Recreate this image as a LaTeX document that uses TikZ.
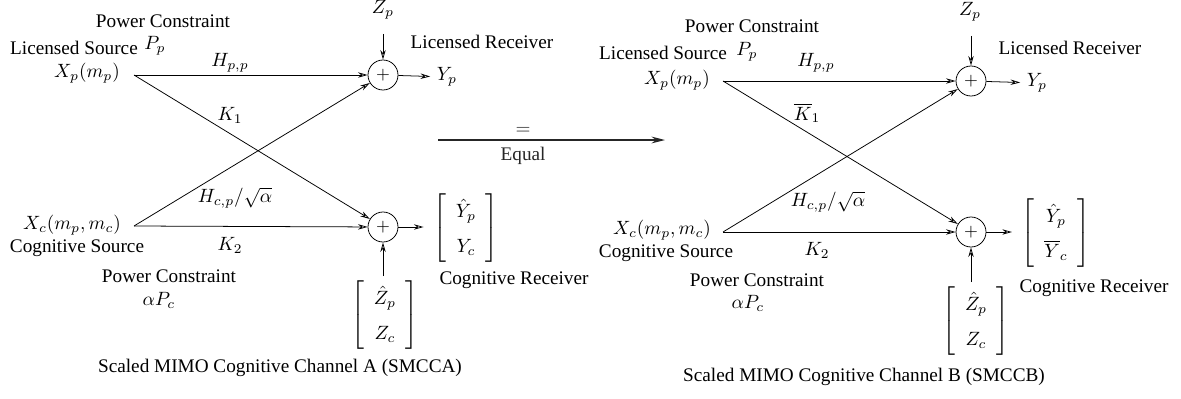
\documentclass[tikz,border=0pt]{standalone}
\usepackage{amsmath,amssymb}
\usepackage{fontspec}
\setmainfont{Liberation Serif}
\usepackage{tikz}
\usetikzlibrary{positioning,calc,arrows.meta}

\newcommand{\vecmat}[2]{$\renewcommand{\arraystretch}{1.5}\left[\begin{array}{c} #1 \\ #2 \end{array}\right]$}

\begin{document}
\begin{tikzpicture}[x=0.52pt,y=-0.52pt,
    arw/.style={-{Stealth[open,length=5pt,width=2.8pt]}},
    sum/.style={draw,circle,minimum size=15.6pt,inner sep=0pt},
    vec/.style={inner sep=2pt}]
    \useasboundingbox (0,0) rectangle (1181,398);

    % ---- Channel A ----
    \node at (163,21) {Power Constraint};
    \node at (74,48) {Licensed Source};
    \node at (155,46) {$P_p$};
    \node (xpA) at (87,73) {$X_p(m_p)$};
    \coordinate (spA) at (134,75);
    \node[sum] (sumPa) at (383,75) {\small$+$};
    \node (zpA) at (383,10) {$Z_p$};
    \node at (482,42) {Licensed Receiver};
    \node (ypA) at (447,77) {$Y_p$};

    \node (xcA) at (72,225) {$X_c(m_p,m_c)$};
    \coordinate (scA) at (134,226);
    \node at (77,248) {Cognitive Source};
    \node at (169,276) {Power Constraint};
    \node at (159,300) {$\alpha P_c$};
    \node[sum] (sumCa) at (383,227) {\small$+$};
    \node[vec] (ycA) at (466,228) {\vecmat{\hat{Y}_p}{Y_c}};
    \node at (514,280) {Cognitive Receiver};
    \node[vec] (zA) at (385,315) {\vecmat{\hat{Z}_p}{Z_c}};
    \node at (280,368) {Scaled MIMO Cognitive Channel A (SMCCA)};

    % links
    \draw[arw] (spA) -- (sumPa);
    \draw[arw] (spA) -- (sumCa);
    \draw[arw] (scA) -- (sumPa);
    \draw[arw] (scA) -- (sumCa);
    \draw[arw] ([yshift=-4pt]zpA.south) -- (sumPa);
    \draw[arw] (sumPa) -- (ypA);
    \draw[arw] (zA.north -| sumCa) -- (sumCa);
    \draw[arw,shorten >=3pt] (sumCa) -- (ycA.west |- sumCa);
    \node at (230,63) {$H_{p,p}$};
    \node at (230,115) {$K_1$};
    \node at (235,198) {$H_{c,p}/\sqrt{\alpha}$};
    \node at (230,245) {$K_2$};

    % ---- equal ----
    \coordinate (eqL) at (438,140);
    \coordinate (eqR) at (665,140);
    \draw[line width=0.7pt,black!85,-{Stealth[length=7pt,width=3.5pt]}] (eqL) --
        node[pos=0.375,above=-1pt] {$=$} node[pos=0.375,below] {Equal} (eqR);

    % ---- Channel B ----
    \node at (752,26) {Power Constraint};
    \node at (663,53) {Licensed Source};
    \node at (747,52) {$P_p$};
    \node (xpB) at (677,80) {$X_p(m_p)$};
    \coordinate (spB) at (723,81);
    \node[sum] (sumPb) at (971,81) {\small$+$};
    \node (zpB) at (970,12) {$Z_p$};
    \node at (1070,48) {Licensed Receiver};
    \node (ypB) at (1037,83) {$Y_p$};

    \node (xcB) at (662,230) {$X_c(m_p,m_c)$};
    \coordinate (scB) at (723,232);
    \node at (666,253) {Cognitive Source};
    \node at (757,280) {Power Constraint};
    \node at (748,303) {$\alpha P_c$};
    \node[sum] (sumCb) at (971,232) {\small$+$};
    \node[vec] (ycB) at (1056,233) {\vecmat{\hat{Y}_p}{\overline{Y}_c}};
    \node at (1094,288) {Cognitive Receiver};
    \node[vec] (zB) at (976,321) {\vecmat{\hat{Z}_p}{Z_c}};
    \node at (864,377) {Scaled MIMO Cognitive Channel B (SMCCB)};

    % links
    \draw[arw] (spB) -- (sumPb);
    \draw[arw] (spB) -- (sumCb);
    \draw[arw] (scB) -- (sumPb);
    \draw[arw] (scB) -- (sumCb);
    \draw[arw] ([yshift=-4pt]zpB.south -| sumPb) -- (sumPb);
    \draw[arw] (sumPb) -- (ypB);
    \draw[arw] (zB.north -| sumCb) -- (sumCb);
    \draw[arw,shorten >=3pt] (sumCb) -- (ycB.west |- sumCb);
    \node at (816,63) {$H_{p,p}$};
    \node at (807,113) {$\overline{K}_1$};
    \node at (828,202) {$H_{c,p}/\sqrt{\alpha}$};
    \node at (817,250) {$K_2$};
\end{tikzpicture}
\end{document}
